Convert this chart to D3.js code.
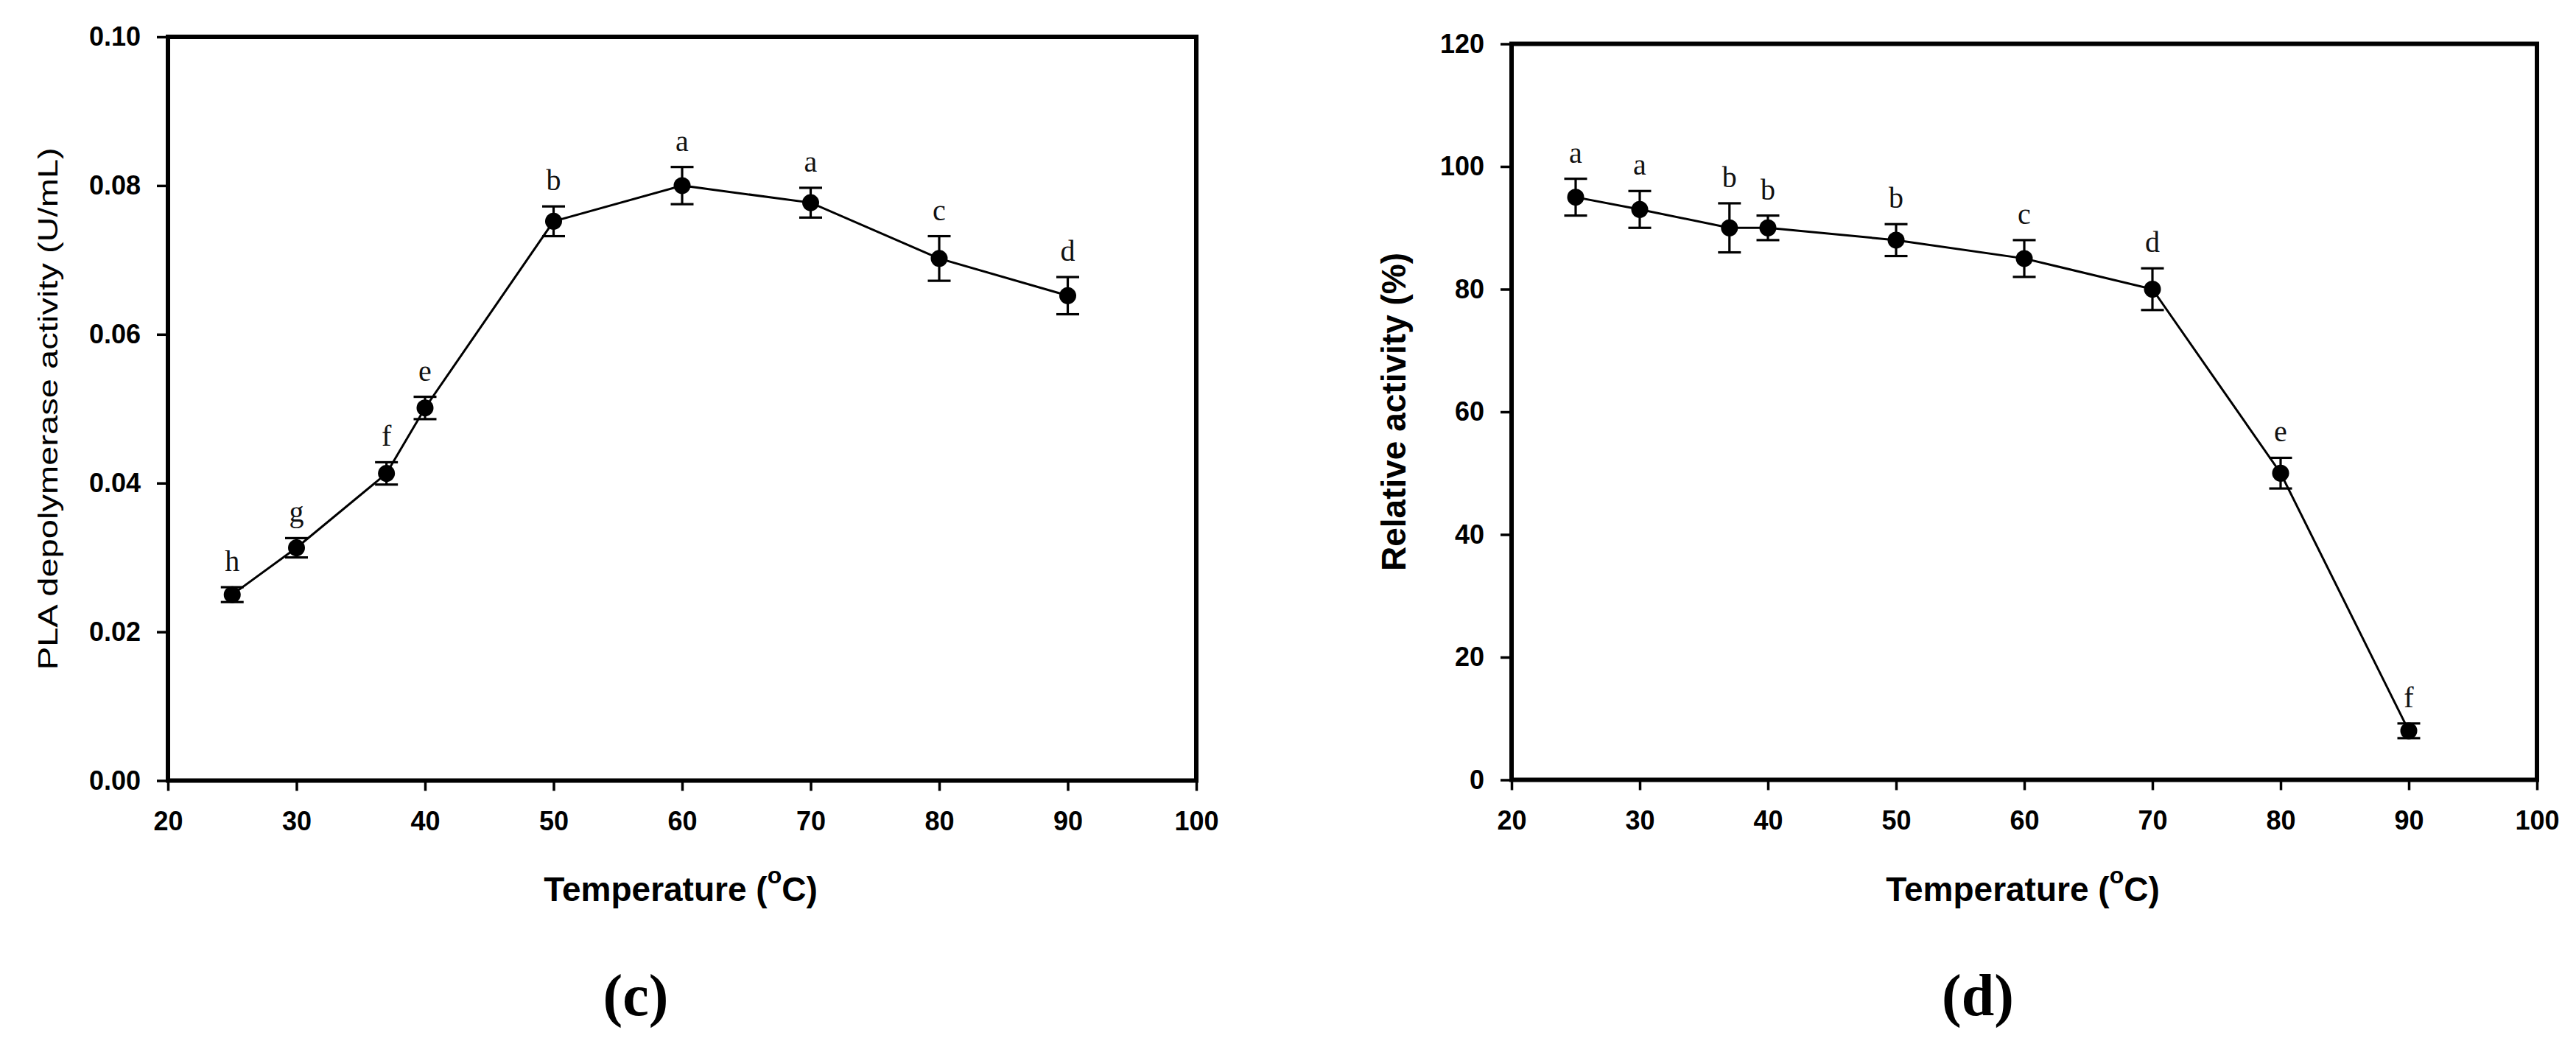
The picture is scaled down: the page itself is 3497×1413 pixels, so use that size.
<!DOCTYPE html>
<html>
<head>
<meta charset="utf-8">
<script src="https://cdn.jsdelivr.net/npm/d3@7"></script>
<style>
html, body { margin: 0; padding: 0; background: #ffffff; }
svg { display: block; }
</style>
</head>
<body>
<svg id="chart" width="3497" height="1413"></svg>
<script>
// ---- data ----
const temperatures = [25, 30, 37, 40, 50, 60, 70, 80, 90];

const plaActivity = [0.0250, 0.0313, 0.0413, 0.0501, 0.0752, 0.0800, 0.0777, 0.0702, 0.0652];
const plaError    = [0.0010, 0.0013, 0.0015, 0.0015, 0.0020, 0.0025, 0.0020, 0.0030, 0.0025];
const plaLetters  = ["h", "g", "f", "e", "b", "a", "a", "c", "d"];

const relActivity = [95, 93, 90, 90, 88, 85, 80, 50, 8];
const relError    = [3, 3, 4, 2, 2.6, 3, 3.4, 2.5, 1.2];
const relLetters  = ["a", "a", "b", "b", "b", "c", "d", "e", "f"];

const xTicks   = [20, 30, 40, 50, 60, 70, 80, 90, 100];
const plaTicks = [0.00, 0.02, 0.04, 0.06, 0.08, 0.10];
const relTicks = [0, 20, 40, 60, 80, 100, 120];

const panelLetters = ["(c)", "(d)"];

// ---- drawing ----
const svg = d3.select("#chart");
svg.append("rect").attr("width", 3497).attr("height", 1413).attr("fill", "#ffffff");

const SANS = "'Liberation Sans', Arial, sans-serif";
const SERIF = "'Liberation Serif', 'Times New Roman', serif";

function panel(cfg) {
  const x = d3.scaleLinear().domain([20, 100]).range([cfg.left, cfg.right]);
  const y = d3.scaleLinear().domain(cfg.yDomain).range([cfg.bottom, cfg.top]);
  const g = svg.append("g");

  // x axis
  const xa = g.append("g")
    .attr("transform", `translate(0,${cfg.bottom})`)
    .call(d3.axisBottom(x).tickValues(xTicks).tickSize(14).tickSizeOuter(0)
      .tickPadding(28).tickFormat(d3.format("d")));
  // y axis
  const ya = g.append("g")
    .attr("transform", `translate(${cfg.left},0)`)
    .call(d3.axisLeft(y).tickValues(cfg.yTicks).tickSize(15).tickSizeOuter(0)
      .tickPadding(22).tickFormat(cfg.yFormat));

  [xa, ya].forEach(a => {
    a.select(".domain").remove();
    a.selectAll(".tick line").attr("stroke", "#000").attr("stroke-width", 3.5);
    a.selectAll(".tick text")
      .attr("fill", "#000")
      .attr("font-family", SANS)
      .attr("font-weight", "bold")
      .attr("font-size", 36);
  });

  // frame
  g.append("rect")
    .attr("x", cfg.left).attr("y", cfg.top)
    .attr("width", cfg.right - cfg.left).attr("height", cfg.bottom - cfg.top)
    .attr("fill", "none").attr("stroke", "#000").attr("stroke-width", 6);

  const pts = temperatures.map((t, i) => ({ t, v: cfg.values[i], e: cfg.errors[i], l: cfg.letters[i] }));

  // connecting line
  g.append("path")
    .datum(pts)
    .attr("fill", "none").attr("stroke", "#000").attr("stroke-width", 3)
    .attr("d", d3.line().x(d => x(d.t)).y(d => y(d.v)));

  // error bars
  const eb = g.append("g").attr("stroke", "#000").attr("stroke-width", 3.2);
  pts.forEach(d => {
    const cx = x(d.t);
    eb.append("line").attr("x1", cx).attr("x2", cx).attr("y1", y(d.v - d.e)).attr("y2", y(d.v + d.e));
    eb.append("line").attr("x1", cx - 15.5).attr("x2", cx + 15.5).attr("y1", y(d.v + d.e)).attr("y2", y(d.v + d.e));
    eb.append("line").attr("x1", cx - 15.5).attr("x2", cx + 15.5).attr("y1", y(d.v - d.e)).attr("y2", y(d.v - d.e));
  });

  // markers
  g.append("g").selectAll("circle").data(pts).join("circle")
    .attr("cx", d => x(d.t)).attr("cy", d => y(d.v)).attr("r", 11.5).attr("fill", "#000");

  // significance letters
  g.append("g").selectAll("text").data(pts).join("text")
    .attr("x", d => x(d.t)).attr("y", d => y(d.v + d.e) - 22)
    .attr("text-anchor", "middle")
    .attr("font-family", SERIF).attr("font-size", 40).attr("fill", "#111")
    .text(d => d.l);

  // x title
  const cxMid = (cfg.left + cfg.right) / 2;
  const xt = g.append("text")
    .attr("x", cxMid - 2).attr("y", 1223)
    .attr("text-anchor", "middle")
    .attr("font-family", SANS).attr("font-weight", "bold").attr("font-size", 46).attr("fill", "#000");
  xt.append("tspan").text("Temperature (");
  xt.append("tspan").attr("font-size", 32).attr("dy", -24).text("o");
  xt.append("tspan").attr("dy", 24).text("C)");

  // y title
  const yt = g.append("text")
    .attr("transform", `translate(${cfg.yTitleX},${(cfg.top + cfg.bottom) / 2}) rotate(-90)`)
    .attr("text-anchor", "middle")
    .attr("font-family", SANS).attr("fill", "#000")
    .text(cfg.yTitle);
  cfg.styleTitle(yt);

  // panel letter
  g.append("text")
    .attr("x", cxMid - 63).attr("y", 1378)
    .attr("text-anchor", "middle")
    .attr("font-family", SERIF).attr("font-weight", "bold").attr("font-size", 80).attr("fill", "#000")
    .text(cfg.panelLetter);
}

panel({
  left: 228, right: 1624, top: 50, bottom: 1059.5,
  yDomain: [0, 0.10], yTicks: plaTicks, yFormat: d3.format(".2f"),
  values: plaActivity, errors: plaError, letters: plaLetters,
  yTitle: "PLA depolymerase activity (U/mL)", yTitleX: 78,
  styleTitle: t => t.attr("font-size", 37).attr("textLength", 709).attr("lengthAdjust", "spacingAndGlyphs"),
  panelLetter: panelLetters[0]
});

panel({
  left: 2052, right: 3444, top: 59.5, bottom: 1058.5,
  yDomain: [0, 120], yTicks: relTicks, yFormat: d3.format("d"),
  values: relActivity, errors: relError, letters: relLetters,
  yTitle: "Relative activity (%)", yTitleX: 1908,
  styleTitle: t => t.attr("font-size", 46).attr("font-weight", "bold"),
  panelLetter: panelLetters[1]
});
</script>
</body>
</html>
